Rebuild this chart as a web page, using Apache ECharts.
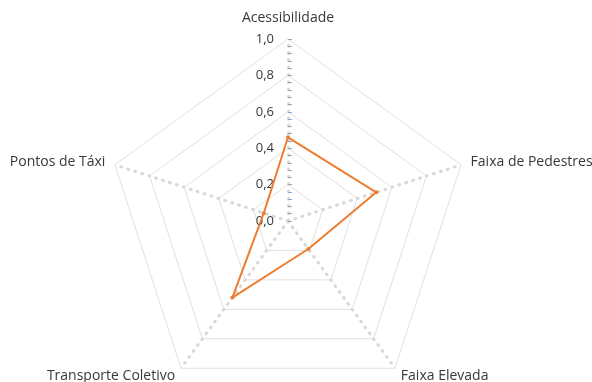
<!DOCTYPE html>
<html>
<head>
<meta charset="utf-8">
<script src="https://cdn.jsdelivr.net/npm/echarts@6/dist/echarts.min.js"></script>
<style>
  html, body { margin: 0; padding: 0; background: #ffffff; }
  #chart { width: 592px; height: 382px; }
</style>
</head>
<body>
<div id="chart"></div>
<script>
// Radar categories, clockwise from the top
const categories = ['Acessibilidade', 'Faixa de Pedestres', 'Faixa Elevada', 'Transporte Coletivo', 'Pontos de Táxi'];
// Score for each category (same order)
const values = [0.46, 0.51, 0.19, 0.52, 0.14];
// Value-axis ticks shown along the vertical spoke
const tickValues = [0, 0.2, 0.4, 0.6, 0.8, 1.0];

const CX = 288, CY = 221, R = 182;
const FONT = '"Open Sans", sans-serif';
const TEXT = '#383838';

// ECharts lays radar indicators out counter-clockwise; reorder so the
// categories run clockwise like the list above.
const order = [0].concat(categories.map((_, i) => i).slice(1).reverse());
const indicatorNames = order.map(i => categories[i]);
const indicatorValues = order.map(i => values[i]);

const chart = echarts.init(document.getElementById('chart'), null, { renderer: 'canvas' });

chart.setOption({
  animation: false,
  backgroundColor: '#ffffff',
  radar: {
    center: [CX, CY],
    radius: R,
    startAngle: 90,
    splitNumber: 5,
    shape: 'polygon',
    indicator: indicatorNames.map(n => ({ name: n, min: 0, max: 1 })),
    nameGap: 10,
    axisName: {
      color: TEXT,
      fontFamily: FONT,
      fontSize: 14,
      formatter: name => name === categories[0] ? '{top|' + name + '}' : name,
      rich: {
        top: { color: TEXT, fontFamily: FONT, fontSize: 14, padding: [0, 0, 4, 0] }
      }
    },
    // spokes drawn as rows of short ticks
    axisLine: { lineStyle: { color: '#d8d8d8', width: 3, type: [1, R / 25 - 1] } },
    splitLine: { lineStyle: { color: '#e0e0e0', width: 1 } },
    splitArea: { show: false },
    axisTick: { show: false },
    axisLabel: { show: false }
  },
  // A value axis laid over the vertical spoke to carry its tick labels and ticks
  grid: { left: CX, top: CY - R, height: R, width: 1, containLabel: false },
  xAxis: { type: 'value', show: false, min: 0, max: 1 },
  yAxis: {
    type: 'value',
    min: tickValues[0],
    max: tickValues[tickValues.length - 1],
    interval: tickValues[1] - tickValues[0],
    axisLine: { show: false },
    splitLine: { show: false },
    axisTick: { show: true, inside: true, length: 4, lineStyle: { color: '#8fa8c8', width: 1 } },
    minorTick: { show: true, splitNumber: 5, length: 4, lineStyle: { color: '#8fa8c8', width: 1 } },
    axisLabel: {
      margin: 14,
      color: TEXT,
      fontFamily: FONT,
      fontSize: 13,
      formatter: v => v.toFixed(1).replace('.', ',')
    }
  },
  series: [{
    type: 'radar',
    symbol: 'circle',
    symbolSize: 4,
    lineStyle: { color: '#ed7d31', width: 2 },
    itemStyle: { color: '#ed7d31' },
    data: [{ value: indicatorValues }]
  }]
});
</script>
</body>
</html>
